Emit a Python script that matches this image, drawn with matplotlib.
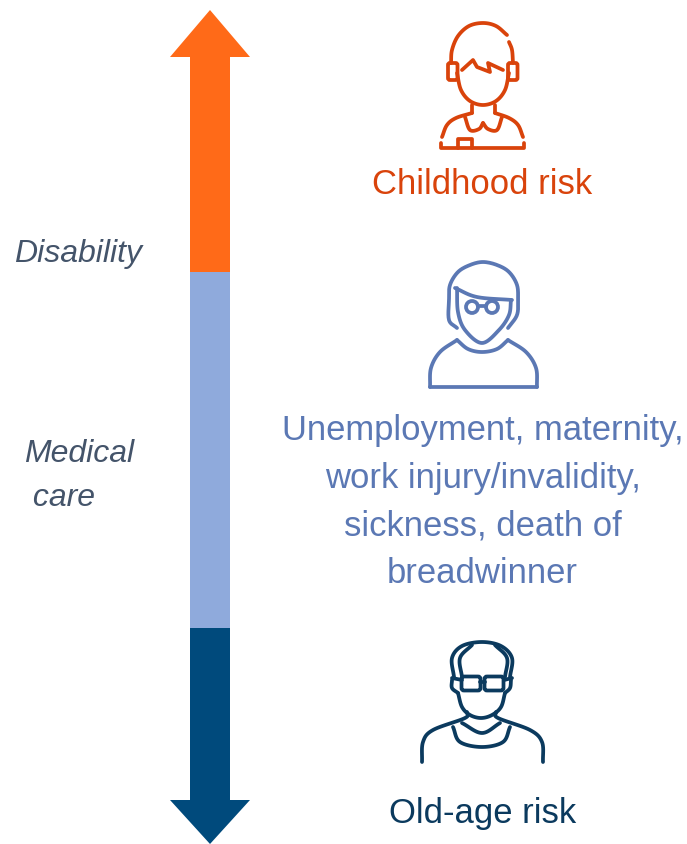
import numpy as np
import matplotlib
matplotlib.use('Agg')
import matplotlib.pyplot as plt
from matplotlib.patches import Polygon, Rectangle, Circle, FancyBboxPatch

plt.rcParams['font.family'] = ['Liberation Sans', 'DejaVu Sans']

# Vertical scale segments, in picture pixels
segment_edges = [57, 272, 628, 800]
segment_colors = ['#FF6A18', '#8FAADC', '#004A7C']

ORANGE = '#D9430B'
BLUE = '#5B78B4'
NAVY = '#0B3A5E'
SLATE = '#44546A'
LW = 2.7

risk_labels = ['Childhood risk',
               'Unemployment, maternity,\nwork injury/invalidity,\nsickness, death of\nbreadwinner',
               'Old-age risk']
side_labels = ['Disability', 'Medical\n care']

fig = plt.figure(figsize=(6.87, 8.44), dpi=100)
ax = fig.add_axes([0, 0, 1, 1])
ax.set_xlim(0, 687)
ax.set_ylim(844, 0)
ax.axis('off')


def smooth(pts, n=14):
    # catmull-rom through the given points
    p = np.array(pts, dtype=float)
    p = np.vstack([2 * p[0] - p[1], p, 2 * p[-1] - p[-2]])
    out = []
    for i in range(1, len(p) - 2):
        t = np.linspace(0, 1, n)[:, None]
        out.append(0.5 * (2 * p[i] + (p[i + 1] - p[i - 1]) * t
                          + (2 * p[i - 1] - 5 * p[i] + 4 * p[i + 1] - p[i + 2]) * t ** 2
                          + (3 * p[i] - p[i - 1] - 3 * p[i + 1] + p[i + 2]) * t ** 3))
    return np.vstack(out)


def curve(pts, color, lw=LW):
    xy = smooth(pts)
    ax.plot(xy[:, 0], xy[:, 1], color=color, lw=lw, solid_capstyle='round', solid_joinstyle='round')


def line(pts, color, lw=LW):
    xy = np.array(pts)
    ax.plot(xy[:, 0], xy[:, 1], color=color, lw=lw, solid_capstyle='round', solid_joinstyle='round')


# arrow
for i, col in enumerate(segment_colors):
    ax.add_patch(Rectangle((190, segment_edges[i]), 40, segment_edges[i + 1] - segment_edges[i],
                           facecolor=col, edgecolor='none'))
ax.add_patch(Polygon([(170, 57), (210, 10), (250, 57)], facecolor=segment_colors[0], edgecolor='none'))
ax.add_patch(Polygon([(170, 800), (210, 844), (250, 800)], facecolor=segment_colors[2], edgecolor='none'))

# side labels
ax.text(14, 254, side_labels[0], fontsize=23, style='italic', color=SLATE, va='center', ha='left')
ax.text(24, 476, side_labels[1], fontsize=23, style='italic', color=SLATE, va='center', ha='left',
        linespacing=1.62)

# right labels
ax.text(482.5, 184, risk_labels[0], fontsize=24.9, color=ORANGE, va='center', ha='center')
ax.text(482.5, 502, risk_labels[1], fontsize=24.9, color=BLUE, va='center', ha='center', linespacing=1.575)
ax.text(482.5, 813, risk_labels[2], fontsize=24.9, color=NAVY, va='center', ha='center')

# child icon
c = ORANGE
curve([(507, 35), (496, 26), (483, 23), (469, 26), (458, 36), (452, 50), (451, 63)], c)
curve([(509, 42), (512, 50), (513, 63)], c)
for x0 in (448, 508):
    ax.add_patch(FancyBboxPatch((x0 + 2, 65), 5.5, 13, boxstyle='round,pad=2', fill=False, edgecolor=c, lw=LW))
curve([(457, 73), (461, 90), (470, 101), (483, 105), (496, 101), (505, 90), (509, 73)], c)
line([(462, 70), (473, 60), (477, 67), (490, 72), (488, 63), (503, 70)], c)
line([(472, 105), (472, 113)], c)
line([(495, 105), (495, 113)], c)
curve([(465, 117), (470, 130), (479, 129), (483, 123)], c)
curve([(483, 123), (488, 129), (497, 130), (502, 117)], c)
curve([(442, 137), (447, 125), (456, 118), (472, 113)], c)
curve([(523, 137), (518, 125), (509, 118), (495, 113)], c)
line([(441, 143), (441, 148), (524, 148), (524, 143)], c)
line([(458, 148), (458, 139), (472, 139), (472, 148)], c)

# adult icon
c = BLUE
curve([(457, 328), (449, 320), (449, 300), (450, 285), (458, 272), (470, 265), (483, 262), (497, 265),
       (509, 272), (517, 285), (518, 300), (517, 315), (508, 328)], c)
curve([(455, 288), (477, 297), (512, 300)], c)
curve([(457, 288), (458, 312), (465, 330), (482, 343), (499, 330), (509, 315), (511, 300)], c)
ax.add_patch(Circle((472, 307), 6, fill=False, edgecolor=c, lw=LW))
ax.add_patch(Circle((492, 307), 6, fill=False, edgecolor=c, lw=LW))
line([(478, 306), (486, 306)], c)
curve([(430, 387), (431, 368), (440, 352), (457, 340)], c)
curve([(457, 340), (468, 349), (482, 352), (497, 349), (508, 340)], c)
curve([(508, 340), (526, 352), (536, 368), (537, 387)], c)
line([(430, 387), (537, 387)], c)

# old age icon
c = NAVY
curve([(454, 677), (452, 658), (462, 646), (482, 642), (501, 646), (512, 658), (510, 677)], c)
curve([(462, 677), (460, 658), (472, 645)], c)
curve([(505, 677), (507, 658), (495, 645)], c)
ax.add_patch(FancyBboxPatch((464, 679), 14, 9, boxstyle='round,pad=2.5', fill=False, edgecolor=c, lw=LW))
ax.add_patch(FancyBboxPatch((487, 679), 14, 9, boxstyle='round,pad=2.5', fill=False, edgecolor=c, lw=LW))
line([(480, 682), (485, 682)], c)
line([(452, 678), (462, 680)], c)
line([(504, 680), (512, 678)], c)
curve([(452, 680), (452, 688), (458, 693)], c)
curve([(511, 680), (510, 688), (505, 693)], c)
curve([(458, 693), (462, 707), (470, 715), (481, 718), (492, 715), (501, 707), (505, 693)], c)
curve([(453, 727), (460, 742), (482, 747), (503, 742), (510, 727)], c)
curve([(462, 723), (482, 733), (500, 723)], c)
curve([(422, 762), (423, 742), (433, 730), (465, 718), (467, 712)], c)
curve([(543, 762), (542, 742), (530, 730), (498, 718), (496, 712)], c)

fig.savefig('out.png', dpi=100)
